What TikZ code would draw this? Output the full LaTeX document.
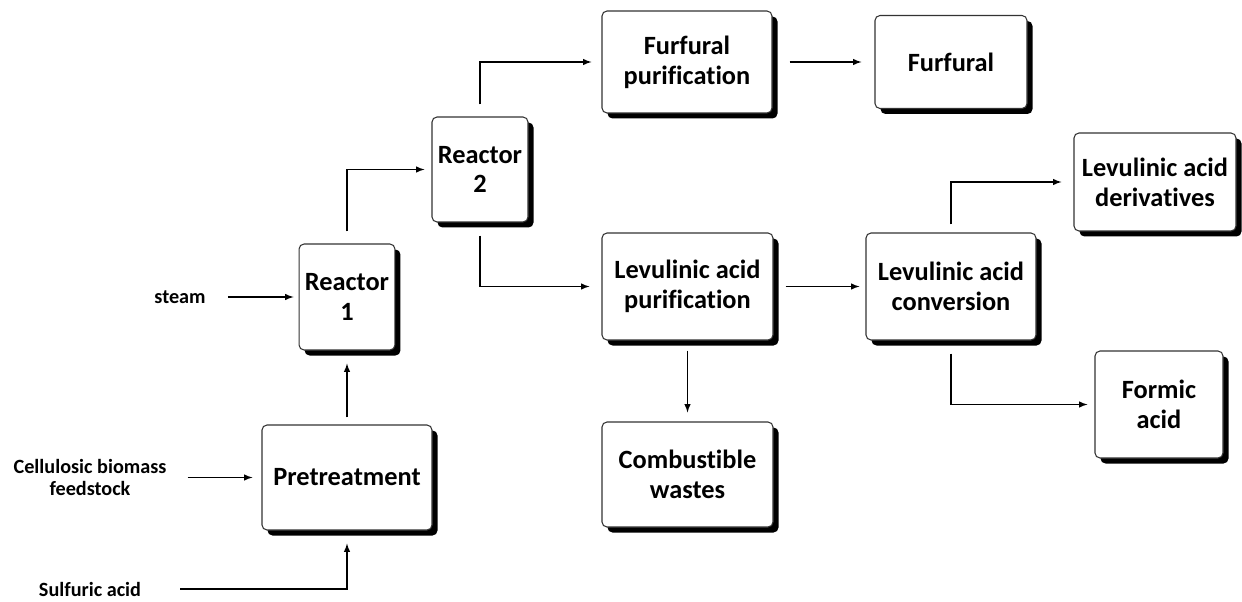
\documentclass[tikz,border=0pt]{standalone}
\usepackage{fontspec}
\setmainfont[Ligatures=NoCommon]{Carlito}
\usepackage{tikz}
\usetikzlibrary{arrows}
\usetikzlibrary{shadows}

\begin{document}
\begin{tikzpicture}[
	box/.style={draw=black!80, line width=0.6pt, rounded corners=1mm, fill=white, align=center,
		font=\fontsize{15}{17}\selectfont\bfseries,
		drop shadow={shadow xshift=1.1mm, shadow yshift=-1.1mm, fill=black, opacity=1}},
	zufuhr/.style={align=center, font=\fontsize{11.5}{13}\selectfont\bfseries},
	pfeil/.style={-latex, line width=0.65pt, shorten <=2mm, shorten >=2mm}]
	\useasboundingbox (0,0) rectangle (24.84,-12.04);
	%
	%Zufuhr links
	\node (steam) at (3.6,-5.94) [zufuhr] {steam};
	\node (feed) at (1.8,-9.55) [zufuhr] {Cellulosic biomass\\feedstock};
	\node (sulf) at (1.8,-11.78) [zufuhr] {Sulfuric acid};
	%
	%Pretreatment
	\node (pre) at (6.94,-9.55) [box, minimum width=3.4cm, minimum height=2.1cm] {Pretreatment};
	%
	%Reactor 1
	\node (r1) at (6.94,-5.94) [box, minimum width=1.9cm, minimum height=2.12cm] {Reactor\\1};
	%
	%Reactor 2
	\node (r2) at (9.6,-3.39) [box, minimum width=1.92cm, minimum height=2.1cm] {Reactor\\2};
	%
	%Furfural purification
	\node (fp) at (13.74,-1.24) [box, minimum width=3.4cm, minimum height=2.04cm] {Furfural\\purification};
	%
	%Furfural
	\node (fur) at (19.02,-1.24) [box, minimum width=3.04cm, minimum height=1.86cm] {Furfural};
	%
	%Levulinic acid purification
	\node (lp) at (13.75,-5.73) [box, minimum width=3.42cm, minimum height=2.14cm] {Levulinic acid\\purification};
	%
	%Levulinic acid conversion
	\node (lc) at (19.02,-5.73) [box, minimum width=3.4cm, minimum height=2.14cm] {Levulinic acid\\conversion};
	%
	%Levulinic acid derivatives
	\node (der) at (23.1,-3.64) [box, minimum width=3.24cm, minimum height=1.96cm] {Levulinic acid\\derivatives};
	%
	%Formic acid
	\node (fa) at (23.18,-8.09) [box, minimum width=2.56cm, minimum height=2.14cm] {Formic\\acid};
	%
	%Combustible wastes
	\node (cw) at (13.75,-9.49) [box, minimum width=3.42cm, minimum height=2.1cm] {Combustible\\wastes};
	%
	%%%%%%%%%%%%%%%%%%%%%%%%%%%%%%%%%%%%%%
	%Pfeile Zufuhr
	\draw[pfeil, shorten <=3.2mm, shorten >=1mm] (steam) -- (r1);
	\draw[pfeil, shorten <=3mm, shorten >=1.8mm] (feed) -- (pre);
	\draw[pfeil, shorten <=6.6mm, shorten >=2.6mm] (sulf.east) -| (pre.south);
	%
	%Pfeil Pretreatment - Reactor 1
	\draw[pfeil, shorten <=1.4mm, shorten >=2.6mm] (pre) -- (r1);
	%
	%Pfeile Reactor 1 - Reactor 2 - Purification
	\draw[pfeil, shorten <=2.4mm, shorten >=1.4mm] (r1.north) |- (r2.west);
	\draw[pfeil, shorten <=2.4mm] (r2.north) |- (fp.west);
	\draw[pfeil, shorten <=2.6mm, shorten >=2.4mm] (r2.south) |- (lp.west);
	%
	%Pfeil Furfural purification - Furfural
	\draw[pfeil, shorten <=3.4mm, shorten >=2.6mm] (fp) -- (fur);
	%
	%Pfeile Levulinic acid purification
	\draw[pfeil, shorten <=2.4mm, shorten >=1.2mm] (lp) -- (lc);
	\draw[pfeil, shorten >=1.8mm] (lp) -- (cw);
	%
	%Pfeile Levulinic acid conversion
	\draw[pfeil, shorten <=1.6mm, shorten >=2.4mm] (lc.north) |- (der.west);
	\draw[pfeil, shorten <=2.6mm, shorten >=1.4mm] (lc.south) |- (fa.west);
\end{tikzpicture}
\end{document}
